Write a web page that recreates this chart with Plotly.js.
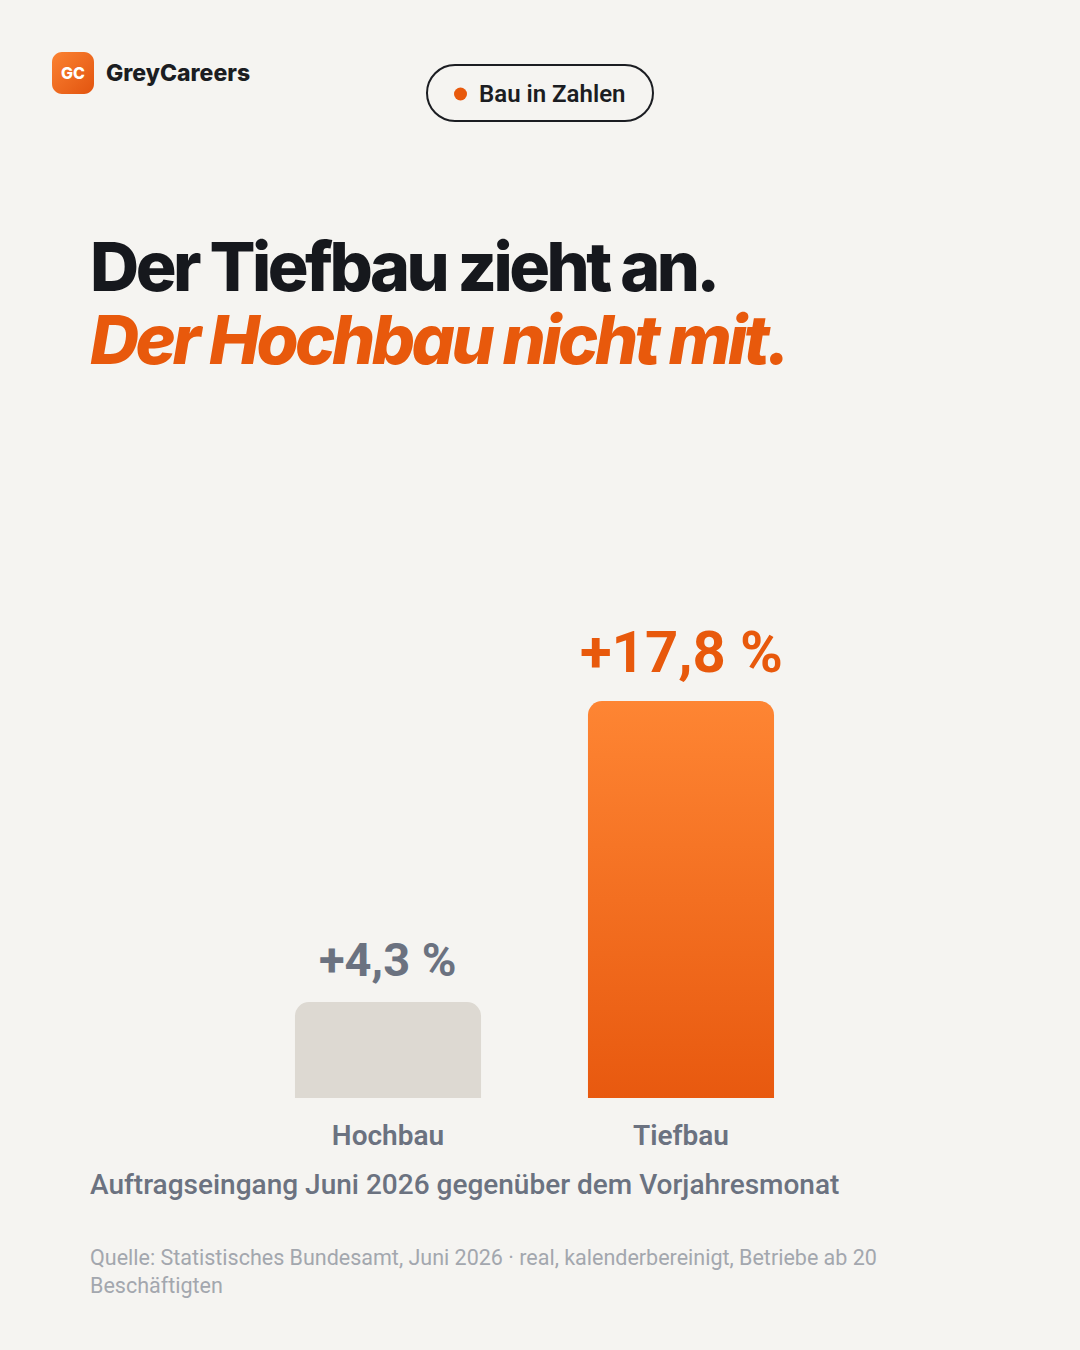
<!DOCTYPE html>
<html>
<head>
<meta charset="utf-8">
<script src="https://cdn.plot.ly/plotly-3.0.1.min.js"></script>
<style>
  html, body { margin: 0; padding: 0; background: #F5F4F1; }
  #chart { width: 1080px; height: 1350px; }
</style>
</head>
<body>
<div id="chart"></div>
<script>
// ---- data ----
const categories = ['Hochbau', 'Tiefbau'];
const values = [4.3, 17.8];
const barColors = ['#DDD9D2', '#F47A25'];
const labelColors = ['#6B7280', '#E8590C'];
const labelSizes = [47, 58];

const titleLine1 = 'Der Tiefbau zieht an.';
const titleLine2 = 'Der Hochbau nicht mit.';
const caption = 'Auftragseingang Juni 2026 gegenüber dem Vorjahresmonat';
const sourceText = 'Quelle: Statistisches Bundesamt, Juni 2026 · real, kalenderbereinigt, Betriebe ab 20<br>Beschäftigten';
const pillText = 'Bau in Zahlen';
const brand = 'GreyCareers';
const brandInitials = 'GC';

// ---- helpers (pixel -> paper) ----
const W = 1080, H = 1350;
const px = x => x / W;
const py = y => 1 - y / H;
function rr(x0, y0, x1, y1, r) {
  const k = 0.5523 * r;
  const P = (x, y) => px(x).toFixed(5) + ',' + py(y).toFixed(5);
  return 'M' + P(x0 + r, y0) +
    ' L' + P(x1 - r, y0) +
    ' C' + P(x1 - r + k, y0) + ' ' + P(x1, y0 + r - k) + ' ' + P(x1, y0 + r) +
    ' L' + P(x1, y1 - r) +
    ' C' + P(x1, y1 - r + k) + ' ' + P(x1 - r + k, y1) + ' ' + P(x1 - r, y1) +
    ' L' + P(x0 + r, y1) +
    ' C' + P(x0 + r - k, y1) + ' ' + P(x0, y1 - r + k) + ' ' + P(x0, y1 - r) +
    ' L' + P(x0, y0 + r) +
    ' C' + P(x0, y0 + r - k) + ' ' + P(x0 + r - k, y0) + ' ' + P(x0 + r, y0) + ' Z';
}
const fmt = v => '+' + v.toFixed(1).replace('.', ',') + ' %';

const trace = {
  type: 'bar',
  x: categories,
  y: values,
  marker: { color: barColors, line: { width: 0 } },
  hoverinfo: 'skip'
};

const annotations = categories.map((c, i) => ({
  x: c, y: values[i], xref: 'x', yref: 'y',
  xanchor: 'center', yanchor: 'bottom', yshift: 13,
  text: fmt(values[i]), showarrow: false,
  font: { family: 'Roboto', size: labelSizes[i], color: labelColors[i], weight: 700 }
}));

annotations.push(
  { x: px(88), y: py(266), xref: 'paper', yref: 'paper', xanchor: 'left', yanchor: 'middle',
    align: 'left', text: titleLine1, showarrow: false,
    font: { family: 'Inter', size: 68, color: '#16181D', weight: 800 } },
  { x: px(88), y: py(339), xref: 'paper', yref: 'paper', xanchor: 'left', yanchor: 'middle',
    align: 'left', text: titleLine2, showarrow: false,
    font: { family: 'Inter', size: 68, color: '#E8590C', weight: 800, style: 'italic' } },
  { x: px(88), y: py(1184), xref: 'paper', yref: 'paper', xanchor: 'left', yanchor: 'middle',
    align: 'left', text: caption, showarrow: false,
    font: { family: 'Roboto', size: 28, color: '#6B7280', weight: 500 } },
  { x: px(88), y: py(1271), xref: 'paper', yref: 'paper', xanchor: 'left', yanchor: 'middle',
    text: sourceText, showarrow: false, align: 'left',
    font: { family: 'Roboto', size: 21.5, color: '#A3A7AE', weight: 400 } },
  { x: px(73), y: py(73), xref: 'paper', yref: 'paper', xanchor: 'center', yanchor: 'middle',
    text: brandInitials, showarrow: false,
    font: { family: 'Inter', size: 16, color: '#FFFFFF', weight: 800 } },
  { x: px(104), y: py(73), xref: 'paper', yref: 'paper', xanchor: 'left', yanchor: 'middle',
    align: 'left', text: brand, showarrow: false,
    font: { family: 'Inter', size: 23, color: '#1B1D22', weight: 800 } },
  { x: px(477), y: py(94), xref: 'paper', yref: 'paper', xanchor: 'left', yanchor: 'middle',
    align: 'left', text: pillText, showarrow: false,
    font: { family: 'Roboto', size: 24, color: '#1B1D22', weight: 600 } }
);

const shapes = [
  { type: 'path', xref: 'paper', yref: 'paper', path: rr(52, 52, 94, 94, 10),
    fillcolor: '#EE6A1C', line: { width: 0 } },
  { type: 'path', xref: 'paper', yref: 'paper', path: rr(427, 65, 653, 121, 28),
    fillcolor: 'rgba(0,0,0,0)', line: { width: 2, color: '#1B1D22' } },
  { type: 'circle', xref: 'paper', yref: 'paper',
    x0: px(454), x1: px(467), y0: py(87.5), y1: py(100.5),
    fillcolor: '#E8590C', line: { width: 0 } }
];

const layout = {
  width: W, height: H,
  margin: { l: 0, r: 0, t: 0, b: 0 },
  paper_bgcolor: '#F5F4F1',
  plot_bgcolor: '#F5F4F1',
  showlegend: false,
  bargap: 0.365,
  barcornerradius: 14,
  xaxis: {
    domain: [241.5 / W, 827.5 / W],
    range: [-0.5, 1.5],
    type: 'category',
    showgrid: false, zeroline: false, showline: false, ticks: '',
    ticklabelstandoff: 18,
    tickfont: { family: 'Roboto', size: 28, color: '#6B7280', weight: 600 },
    fixedrange: true
  },
  yaxis: {
    domain: [py(1098), py(652)],
    range: [0, 20],
    visible: false,
    fixedrange: true
  },
  annotations: annotations,
  shapes: shapes
};

Plotly.newPlot('chart', [trace], layout, { staticPlot: true, displayModeBar: false }).then(gd => {
  const svg = gd.querySelector('.main-svg');
  const NS = 'http://www.w3.org/2000/svg';
  let defs = svg.querySelector('defs');
  if (!defs) { defs = document.createElementNS(NS, 'defs'); svg.insertBefore(defs, svg.firstChild); }
  function grad(id, x2, y2, stops) {
    const g = document.createElementNS(NS, 'linearGradient');
    g.setAttribute('id', id);
    g.setAttribute('x1', '0'); g.setAttribute('y1', '0');
    g.setAttribute('x2', x2); g.setAttribute('y2', y2);
    stops.forEach(([o, c]) => {
      const s = document.createElementNS(NS, 'stop');
      s.setAttribute('offset', o); s.setAttribute('stop-color', c);
      g.appendChild(s);
    });
    defs.appendChild(g);
  }
  grad('tiefGrad', '0', '1', [['0', '#FE8533'], ['1', '#E8590F']]);
  grad('logoGrad', '1', '1', [['0', '#FB8232'], ['1', '#E2540F']]);
  const bars = gd.querySelectorAll('.bars .point path');
  if (bars[1]) bars[1].style.fill = 'url(#tiefGrad)';
  const logo = gd.querySelector('.shapelayer path[data-index="0"]');
  if (logo) logo.style.fill = 'url(#logoGrad)';
  gd.querySelectorAll('.annotation-text').forEach(t => {
    const s = t.textContent;
    if (s === titleLine1 || s === titleLine2) t.style.letterSpacing = '-3.5px';
  });
});
</script>
</body>
</html>
